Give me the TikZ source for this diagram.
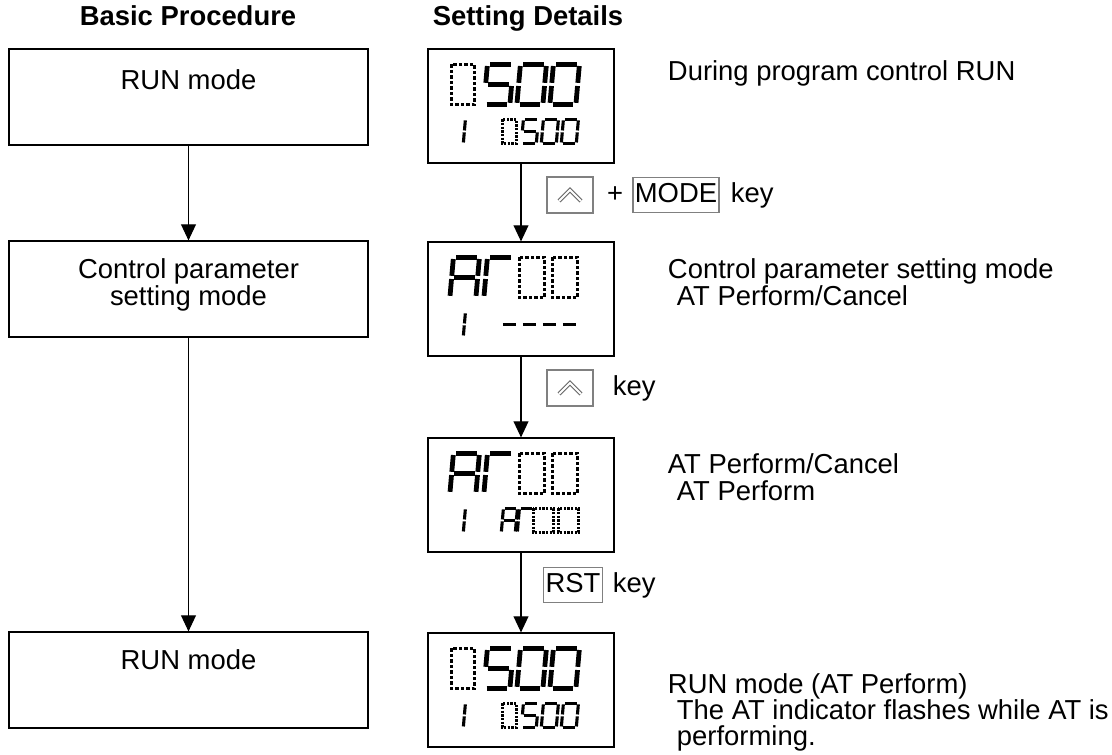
\documentclass[tikz,border=0pt]{standalone}
\usepackage{fontspec}
\setmainfont{Liberation Sans}
\usetikzlibrary{arrows.meta,positioning}

% segments of a 7-segment digit, unit cell 1 x 2
\tikzset{
  seg a/.style={insert path={(0.1,0) -- (0.9,0)}},
  seg b/.style={insert path={(1,0.08) -- (1,0.92)}},
  seg c/.style={insert path={(1,1.08) -- (1,1.92)}},
  seg d/.style={insert path={(0.1,2) -- (0.9,2)}},
  seg e/.style={insert path={(0,1.08) -- (0,1.92)}},
  seg f/.style={insert path={(0,0.08) -- (0,0.92)}},
  seg g/.style={insert path={(0.1,1) -- (0.9,1)}},
}
\newcommand{\lcd}[6][big]{%
  \begin{scope}[shift={(#2,#3)},x={(#4*0.025cm,0)},y={(-#5*0.0022cm,-#5*0.025cm)}]
    \foreach \s in {#6} \draw[#1 seg, seg \s];
  \end{scope}}
\newcommand{\lcdoff}[5][big]{%
  \draw[#1 dots] (#2,#3) rectangle ++(#4,2*#5);}
% 0500 display
\newcommand{\lcdrun}{%
  \lcdoff{24}{16}{23}{20}
  \lcd{60}{16}{26}{20}{a,f,g,c,d}
  \lcd{93}{16}{26}{20}{a,b,c,d,e,f}
  \lcd{126}{16}{26}{20}{a,b,c,d,e,f}
  \lcd[small]{22}{71}{16}{12}{b,c}
  \lcdoff[small]{75}{71}{14}{12}
  \lcd[small]{96}{71}{15}{12}{a,f,g,c,d}
  \lcd[small]{116}{71}{15}{12}{a,b,c,d,e,f}
  \lcd[small]{136}{71}{15}{12}{a,b,c,d,e,f}}
% AT00 top line
\newcommand{\lcdat}{%
  \lcd{26}{16}{26}{20}{a,b,c,e,f,g}
  \lcd{60}{16}{26}{20}{a,e,f}
  \lcdoff{92}{16}{25}{20}
  \lcdoff{125}{16}{25}{20}
  \lcd[small]{22}{71}{16}{12}{b,c}}

\begin{document}
\begin{tikzpicture}[x=0.025cm,y=-0.025cm,
  every node/.style={font=\fontsize{19.5}{23}\selectfont, text height=14pt, text depth=3.5pt},
  procbox/.style={draw, line width=0.8pt, minimum width=8.975cm, minimum height=2.4cm, inner sep=0pt},
  lcdbox/.style={draw, line width=0.8pt, minimum width=4.65cm, minimum height=2.85cm, inner sep=0pt},
  keybox/.style={draw=gray, line width=0.8pt, inner xsep=1.3pt, inner ysep=4pt},
  note/.style={anchor=west, inner ysep=0pt},
  flow/.style={-{Triangle[length=0.4cm,width=0.37cm]}, line width=0.8pt},
  big seg/.style={line width=3.4pt},
  small seg/.style={line width=2.2pt},
  big dots/.style={line width=2.6pt, dash pattern=on 2.4pt off 1.5pt},
  small dots/.style={line width=1.8pt, dash pattern=on 1.6pt off 1.0pt},
  chevron/.style={draw=gray!80!black, line width=0.7pt, double=white, double distance=1.5pt}]
  \useasboundingbox (0,0) rectangle (1112,755);

  % headings
  \node[font=\fontsize{19.5}{23}\selectfont\bfseries] (basic) at (188,18) {Basic Procedure};
  \node[font=\fontsize{19.5}{23}\selectfont\bfseries] (details) at (528,18) {Setting Details};

  % basic procedure
  \node[procbox] (run1) at (188.5,97) {};
  \node (run1txt) at (188.5,82) {RUN mode};
  \node[procbox] (ctrl) at (188.5,289) {};
  \node (ctrltxta) at (188.5,271) {Control parameter};
  \node (ctrltxtb) at (188.5,298) {setting mode};
  \node[procbox] (run2) at (188.5,680) {};
  \node (run2txt) at (188.5,662) {RUN mode};
  \draw[flow] (run1.south) -- (ctrl.north);
  \draw[flow] (ctrl.south) -- (run2.north);

  % displays
  \node[lcdbox] (disp1) at (521,106) {};
  \begin{scope}[shift={(disp1.north west)}]
    \lcdrun
  \end{scope}
  \node[lcdbox] (disp2) at (521,299) {};
  \begin{scope}[shift={(disp2.north west)}]
    \lcdat
    \foreach \i in {0,...,3} \lcd[small]{75+20*\i}{71}{16}{12}{g};
  \end{scope}
  \node[lcdbox] (disp3) at (521,495) {};
  \begin{scope}[shift={(disp3.north west)}]
    \lcdat
    \lcd[small]{76}{71}{14}{12}{a,b,c,e,f,g}
    \lcd[small]{92}{71}{14}{12}{a,e,f}
    \lcdoff[small]{106}{71}{20}{12}
    \lcdoff[small]{131}{71}{20}{12}
  \end{scope}
  \node[lcdbox] (disp4) at (521,690) {};
  \begin{scope}[shift={(disp4.north west)}]
    \lcdrun
  \end{scope}
  \draw[flow] (disp1.south) -- (disp2.north);
  \draw[flow] (disp2.south) -- (disp3.north);
  \draw[flow] (disp3.south) -- (disp4.north);

  % keys
  \node[keybox, minimum width=1.15cm, minimum height=0.9cm] (upkeya) at (570,195) {};
  \draw[chevron] (upkeya.center) ++(-11,6) -- ++(11,-11) -- ++(11,11);
  \node (plus) at (615,195) {+};
  \node[keybox] (modekey) at (676,195) {MODE};
  \node[anchor=west] (keya) at (726,195) {key};
  \node[keybox, minimum width=1.15cm, minimum height=0.9cm] (upkeyb) at (570,388) {};
  \draw[chevron] (upkeyb.center) ++(-11,6) -- ++(11,-11) -- ++(11,11);
  \node[anchor=west] (keyb) at (608,388) {key};
  \node[keybox] (rstkey) at (573,585) {RST};
  \node[anchor=west] (keyc) at (608,585) {key};

  % notes
  \node[note] (note1) at (663,73) {During program control RUN};
  \node[note] (note2a) at (663,271) {Control parameter setting mode};
  \node[note] (note2b) at (672,298) {AT Perform/Cancel};
  \node[note] (note3a) at (663,466) {AT Perform/Cancel};
  \node[note] (note3b) at (672,493) {AT Perform};
  \node[note] (note4a) at (663,686) {RUN mode (AT Perform)};
  \node[note] (note4b) at (672,712) {The AT indicator flashes while AT is};
  \node[note] (note4c) at (672,738) {performing.};
\end{tikzpicture}
\end{document}
